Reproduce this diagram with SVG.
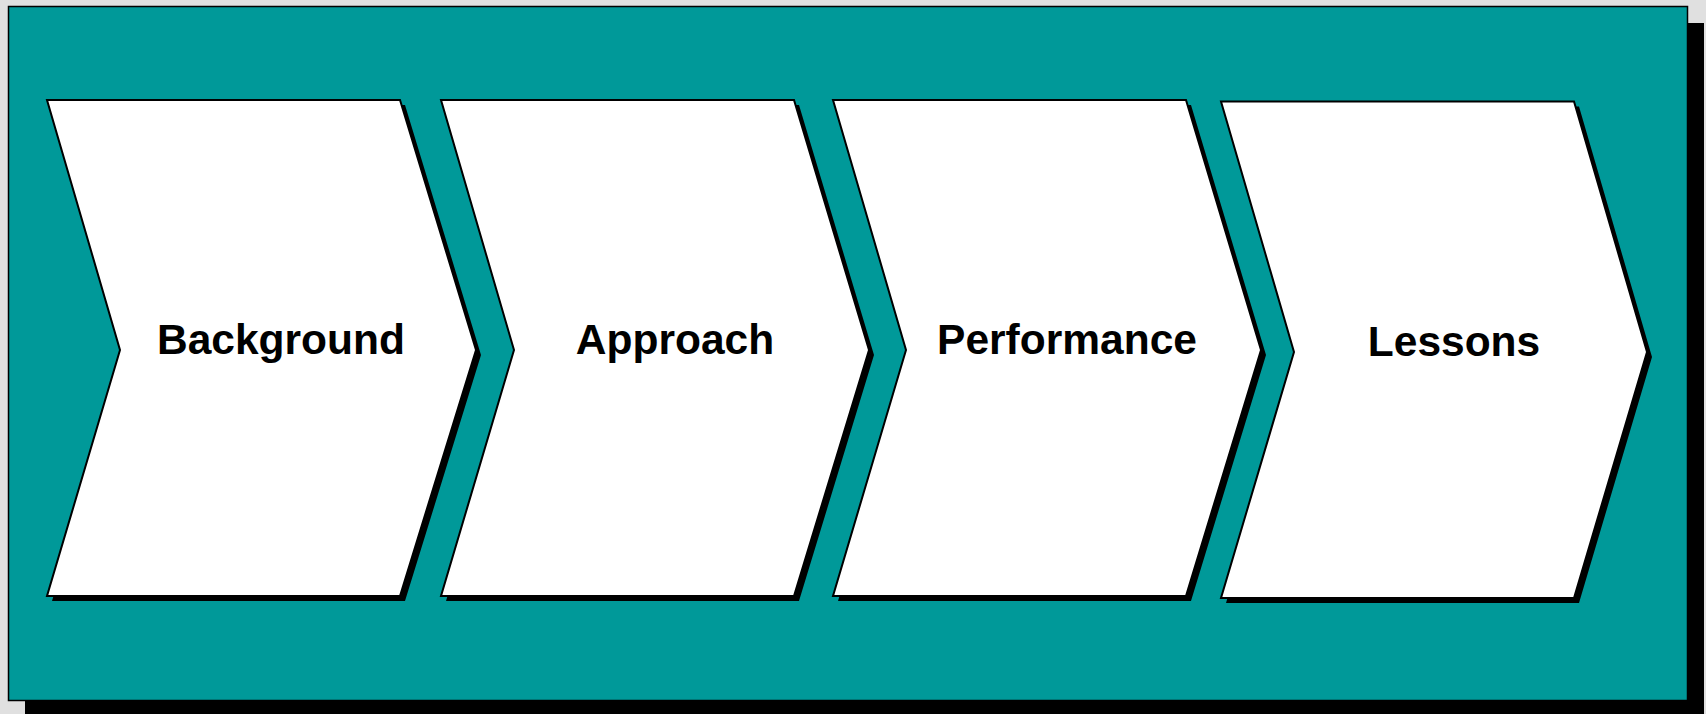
<svg xmlns="http://www.w3.org/2000/svg" width="1706" height="714" viewBox="0 0 1706 714">
<style>
.shadow{fill:#000}
.chev{fill:#fff;stroke:#000;stroke-width:2;stroke-linejoin:miter}
.lbl{font-family:"Liberation Sans",Arial,sans-serif;font-weight:bold;font-size:42.5px;fill:#000;text-anchor:middle}
</style>
<rect x="0" y="0" width="1706" height="714" fill="#e0e0e0"/>
<rect x="25" y="23" width="1679" height="694" fill="#000"/>
<rect x="8.5" y="6.5" width="1679" height="694" fill="#009999" stroke="#000" stroke-width="1.5"/>
<g id="n1">
<polygon class="shadow" points="52,105 405,105 481,355 405,601 52,601 125,355"/>
<polygon class="chev" points="47,100 400,100 476,350 400,596 47,596 120,350"/>
<text class="lbl" x="281" y="354">Background</text>
</g>
<g id="n2">
<polygon class="shadow" points="446,105 799,105 874,355 799,601 446,601 519,355"/>
<polygon class="chev" points="441,100 794,100 869,350 794,596 441,596 514,350"/>
<text class="lbl" x="675" y="354">Approach</text>
</g>
<g id="n3">
<polygon class="shadow" points="838,105 1191,105 1266,355 1191,601 838,601 911,355"/>
<polygon class="chev" points="833,100 1186,100 1261,350 1186,596 833,596 906,350"/>
<text class="lbl" x="1067" y="354">Performance</text>
</g>
<g id="n4">
<polygon class="shadow" points="1226,106.5 1579,106.5 1652,357 1579,603 1226,603 1299,357"/>
<polygon class="chev" points="1221,101.5 1574,101.5 1647,352 1574,598 1221,598 1294,352"/>
<text class="lbl" x="1454" y="356">Lessons</text>
</g>
<g id="connectors"></g>
</svg>
